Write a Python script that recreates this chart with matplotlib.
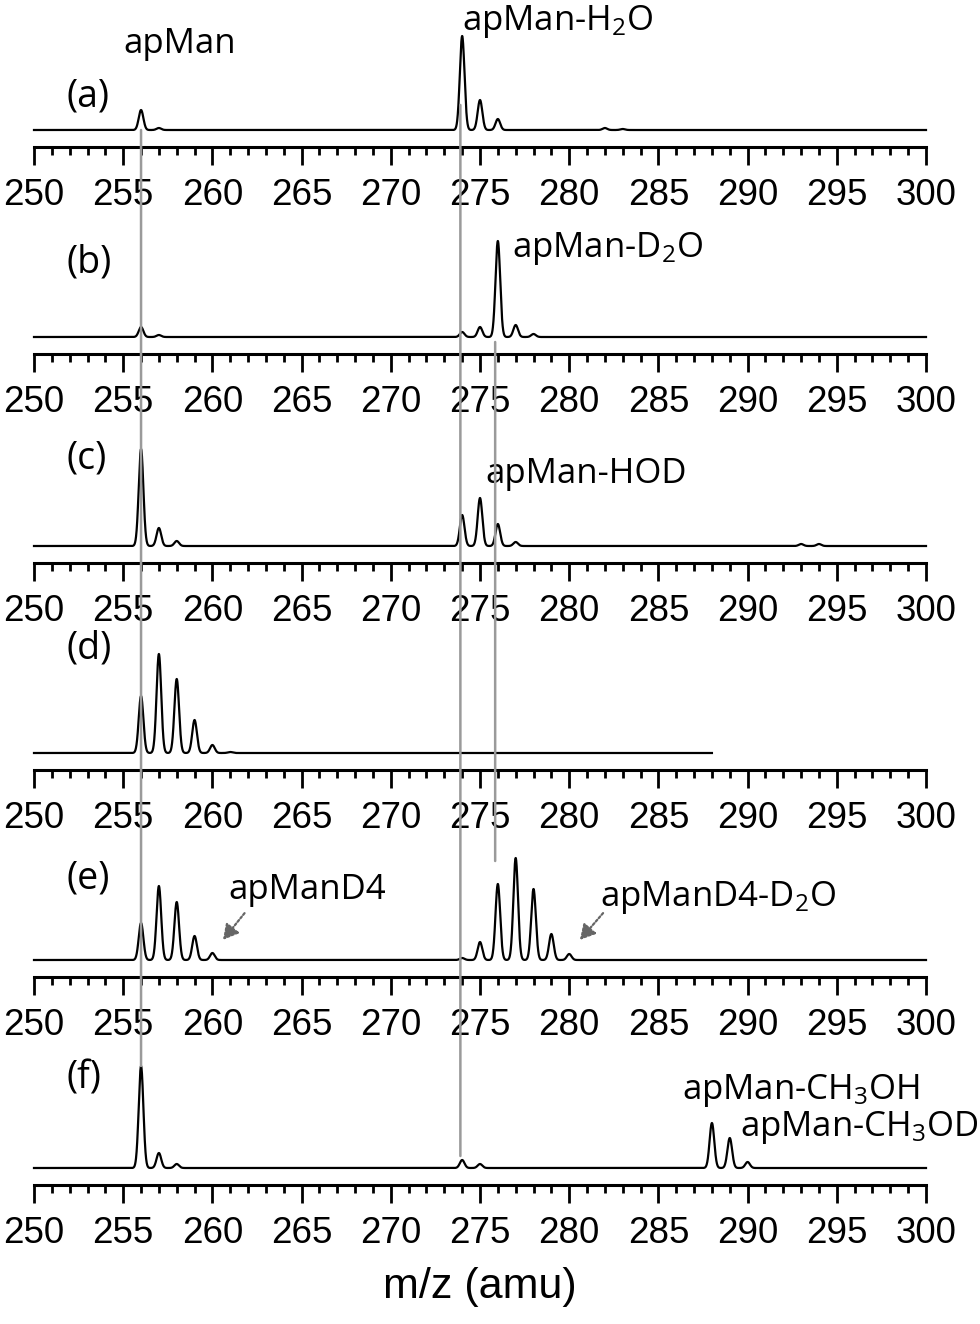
import matplotlib
matplotlib.use("Agg")
import matplotlib.pyplot as plt
import numpy as np
from matplotlib.patches import ConnectionPatch

# peak positions (amu) and heights (relative, ~100 = tallest)
panel_names = ["(a)", "(b)", "(c)", "(d)", "(e)", "(f)"]
mz_a = [256, 257, 274, 275, 276, 282, 283]
int_a = [20, 2, 94, 30, 11, 2, 1]
mz_b = [256, 257, 274, 275, 276, 277, 278]
int_b = [10, 2, 5, 10, 96, 12, 3]
mz_c = [256, 257, 258, 274, 275, 276, 277, 293, 294]
int_c = [97, 18, 5, 31, 48, 22, 4, 2, 2]
mz_d = [256, 257, 258, 259, 260, 261]
int_d = [57, 99, 74, 33, 8, 1]
mz_e = [256, 257, 258, 259, 260, 274, 275, 276, 277, 278, 279, 280]
int_e = [37, 74, 58, 24, 7, 2, 18, 76, 102, 71, 26, 6]
mz_f = [256, 257, 258, 274, 275, 288, 289, 290]
int_f = [102, 15, 4, 8, 4, 45, 30, 6]
scan_end = [300, 300, 300, 288, 300, 300]

peaks = [(mz_a, int_a), (mz_b, int_b), (mz_c, int_c),
         (mz_d, int_d), (mz_e, int_e), (mz_f, int_f)]

label_font = "Open Sans"
plt.rcParams["font.family"] = ["Liberation Sans", "DejaVu Sans"]

fig = plt.figure(figsize=(9.8, 13.24), dpi=100)
W, H = 980, 1324
axis_rows = [147, 354, 563, 770, 977, 1185]   # pixel row of each x axis line
gap = 17                                       # baseline sits this far above the axis
panel_y = [33, 74, 88, 105, 81, 90]

axes = []
for i, row in enumerate(axis_rows):
  ax = fig.add_axes([34 / W, 1 - row / H, 892 / W, 180 / H])
  mz, inten = peaks[i]
  x = np.linspace(250, scan_end[i], 6000)
  y = np.zeros_like(x)
  for m, h in zip(mz, inten):
    y += h * np.exp(-0.5 * ((x - m) / 0.13) ** 2)
  ax.plot(x, y, color="black", lw=1.6, clip_on=False)
  ax.set_xlim(250, 300)
  ax.set_ylim(-gap, 180 - gap)
  for s in ["top", "left", "right"]:
    ax.spines[s].set_visible(False)
  ax.spines["bottom"].set_linewidth(2.2)
  ax.set_yticks([])
  ax.set_xticks(np.arange(250, 301, 5))
  ax.set_xticks(np.arange(250, 301, 1), minor=True)
  ax.tick_params(axis="x", which="major", direction="out", length=13, width=2.0,
                 pad=9, labelsize=26.5)
  ax.tick_params(axis="x", which="minor", direction="out", length=6, width=2.0)
  ax.patch.set_visible(False)
  ax.text(251.8, panel_y[i], panel_names[i], fontsize=27, family=label_font, va="center")
  axes.append(ax)

ax_a, ax_b, ax_c, ax_d, ax_e, ax_f = axes
kw = dict(fontsize=25, family=label_font, va="baseline")
ax_a.text(255.0, 77, "apMan", **kw)
ax_a.text(274.0, 100, r"apMan-H$\mathregular{_2}$O", **kw)
ax_b.text(276.8, 80, r"apMan-D$\mathregular{_2}$O", **kw)
ax_c.text(275.3, 63, "apMan-HOD", **kw)
ax_e.text(260.9, 61, "apManD4", **kw)
ax_e.text(281.7, 54, r"apManD4-D$\mathregular{_2}$O", **kw)
ax_f.text(286.3, 69, r"apMan-CH$\mathregular{_3}$OH", **kw)
ax_f.text(289.6, 32, r"apMan-CH$\mathregular{_3}$OD", **kw)

arrow_kw = dict(arrowstyle="-|>,head_length=0.9,head_width=0.5", color="#666666",
                lw=1.6, linestyle=(0, (1, 1)))
ax_e.annotate("", xy=(260.5, 18), xytext=(261.9, 49), arrowprops=arrow_kw)
ax_e.annotate("", xy=(280.5, 18), xytext=(282.0, 49), arrowprops=arrow_kw)

# grey guide lines linking panels
guides = [(256.0, ax_a, 0, ax_f, 102),
          (273.9, ax_a, 25, ax_f, 12),
          (275.85, ax_b, -5, ax_e, 99)]
for xg, axA, yA, axB, yB in guides:
  con = ConnectionPatch(xyA=(xg, yA), coordsA="data", axesA=axA,
                        xyB=(xg, yB), coordsB="data", axesB=axB,
                        color="#9a9a9a", lw=1.8)
  fig.add_artist(con)

fig.text(480 / W, 1 - 1287 / H, "m/z (amu)", fontsize=31, ha="center", va="center")

fig.savefig("out.png", dpi=100)
